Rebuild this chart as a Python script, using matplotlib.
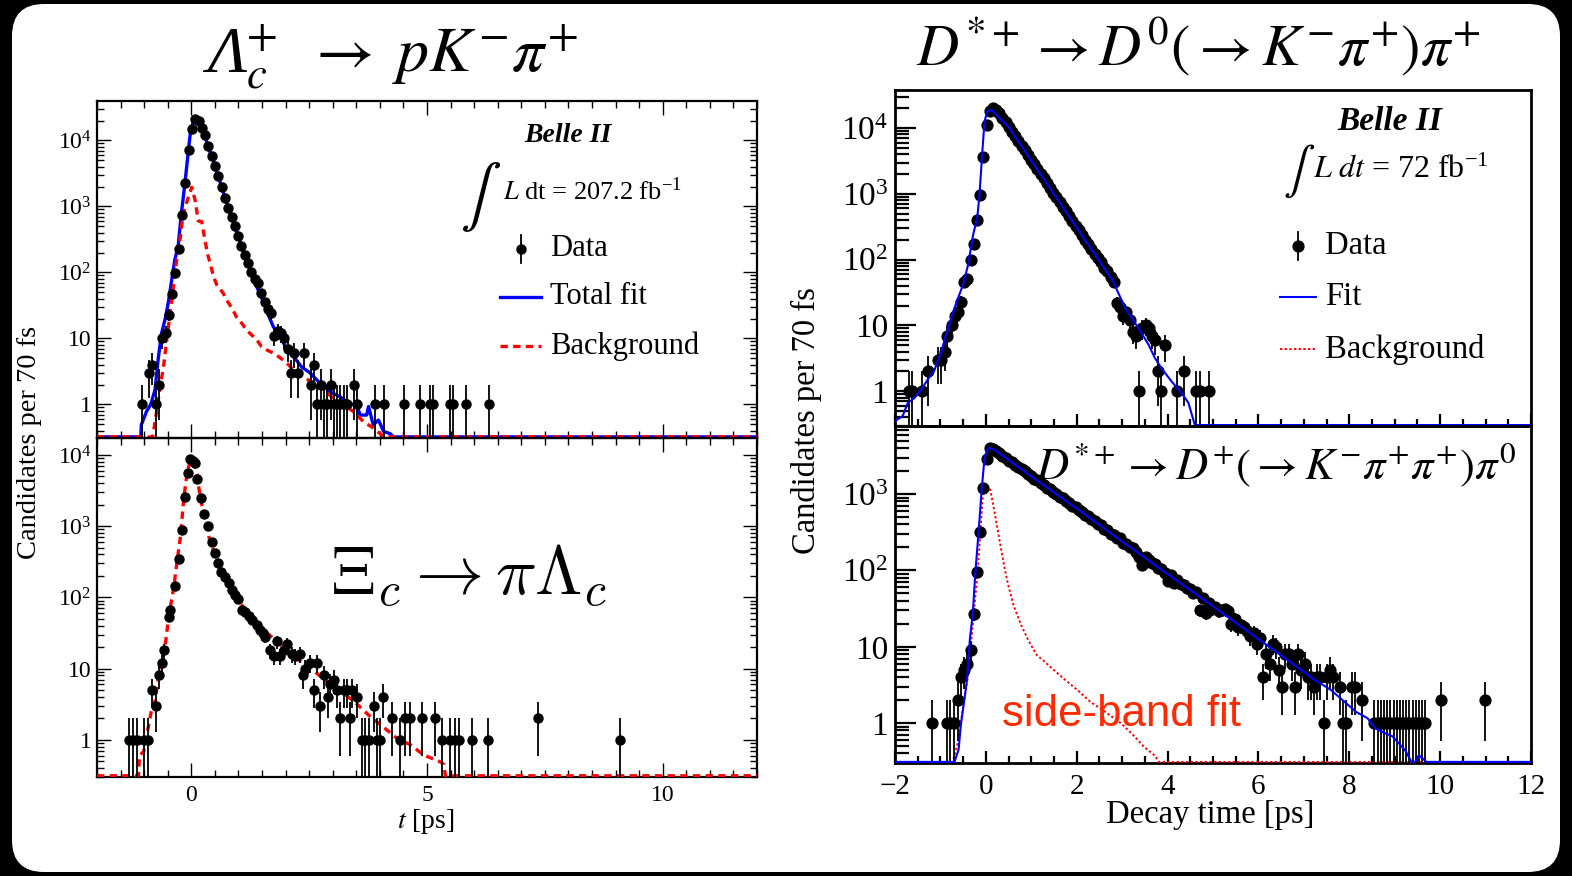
import numpy as np
import matplotlib
matplotlib.use('Agg')
import matplotlib.pyplot as plt
from matplotlib.patches import FancyBboxPatch
from matplotlib.lines import Line2D
from matplotlib.ticker import FixedLocator, LogLocator, MultipleLocator, FuncFormatter, NullFormatter

plt.rcParams['font.family'] = ['Liberation Serif', 'DejaVu Serif']
plt.rcParams['mathtext.fontset'] = 'stix'

W, H = 1572, 876

# ---- Lambda_c -> p K pi (top left), (t [ps], candidates)
lc_data = [(-1.035, 1), (-0.895, 3), (-0.825, 4), (-0.755, 1), (-0.685, 2), (-0.615, 10), (-0.545, 12),
           (-0.475, 23), (-0.405, 47), (-0.335, 97), (-0.265, 227), (-0.195, 750), (-0.125, 2300),
           (-0.055, 7200), (0.015, 15000), (0.085, 21000), (0.155, 20000), (0.225, 15500), (0.295, 12000),
           (0.365, 8100), (0.435, 5700), (0.505, 4100), (0.575, 2900), (0.645, 1950), (0.715, 1350),
           (0.785, 950), (0.855, 700), (0.925, 510), (0.995, 360), (1.065, 255), (1.135, 185), (1.205, 140),
           (1.275, 100), (1.345, 80), (1.415, 70), (1.485, 48), (1.555, 35), (1.625, 28), (1.695, 24),
           (1.765, 11), (1.835, 13), (1.905, 12), (1.975, 10), (2.045, 7), (2.115, 3), (2.185, 6), (2.255, 3),
           (2.395, 6), (2.535, 2), (2.605, 4), (2.675, 1), (2.745, 2), (2.815, 1), (2.885, 1), (2.955, 2),
           (3.025, 1), (3.095, 1), (3.165, 1), (3.235, 1), (3.305, 1), (3.445, 2), (3.515, 1), (3.905, 1),
           (4.085, 1), (4.505, 1), (4.855, 1), (5.065, 1), (5.135, 1), (5.485, 1), (5.555, 1), (5.835, 1),
           (6.325, 1)]
lc_fit = [(-2.0, 0), (-1.07, 0), (-1.06, 0.49), (-0.95, 0.78), (-0.86, 1.0), (-0.77, 1.66), (-0.70, 5),
          (-0.63, 12), (-0.56, 19), (-0.49, 34), (-0.42, 73), (-0.35, 155), (-0.28, 245), (-0.21, 790),
          (-0.13, 2400), (-0.06, 7200), (-0.01, 15000), (0.06, 20000), (0.13, 20500), (0.22, 15500),
          (0.29, 11500), (0.36, 8000), (0.43, 5700), (0.50, 4100), (0.57, 2900), (0.64, 2000), (0.71, 1400),
          (0.78, 980), (0.85, 700), (0.92, 500), (0.99, 360), (1.06, 260), (1.13, 190), (1.20, 138),
          (1.27, 100), (1.34, 75), (1.41, 56), (1.48, 43), (1.55, 33), (1.62, 24), (1.74, 15), (1.88, 10.6),
          (2.02, 7.1), (2.17, 5.3), (2.34, 3.7), (2.52, 3.0), (2.73, 2.1), (2.94, 1.56), (3.16, 1.3),
          (3.37, 1.0), (3.51, 1.0), (3.58, 0.69), (3.72, 0.69), (3.76, 0.93), (3.86, 0.49), (3.97, 0.58),
          (4.08, 0.39), (4.22, 0.36), (4.29, 0), (12.0, 0)]
lc_bkg = [(-2.0, 0), (-0.82, 0), (-0.81, 0.35), (-0.74, 0.74), (-0.67, 1.66), (-0.59, 3.7), (-0.52, 9.5),
          (-0.45, 24), (-0.38, 61), (-0.31, 155), (-0.24, 310), (-0.17, 790), (-0.06, 1400), (0.01, 1950),
          (0.08, 1250), (0.15, 600), (0.22, 590), (0.29, 310), (0.34, 195), (0.40, 138), (0.47, 87),
          (0.54, 65), (0.68, 48), (0.75, 38), (0.86, 29), (0.96, 21), (1.07, 17), (1.17, 13.4), (1.28, 11.3),
          (1.39, 9.5), (1.49, 7.5), (1.60, 6.7), (1.74, 6.0), (1.85, 5.3), (1.95, 4.7), (2.06, 4.0),
          (2.17, 3.3), (2.38, 2.6), (2.59, 2.1), (2.80, 1.7), (3.01, 1.24), (3.23, 0.98), (3.44, 0.78),
          (3.65, 0.55), (3.86, 0.44), (4.05, 0.34), (4.08, 0), (12.0, 0)]

# ---- Xi_c -> pi Lambda_c (bottom left)
xic_data = [(-1.33, 1), (-1.24, 1), (-1.15, 1), (-1.01, 1), (-0.91, 1), (-0.83, 5), (-0.75, 3), (-0.69, 8),
            (-0.62, 12), (-0.57, 18), (-0.48, 53), (-0.45, 66), (-0.34, 145), (-0.27, 350), (-0.20, 890),
            (-0.13, 2550), (-0.07, 5500), (-0.02, 8700), (0.04, 8200), (0.085, 7600), (0.13, 4600),
            (0.205, 2500), (0.28, 1500), (0.35, 1020), (0.44, 590), (0.50, 420), (0.56, 300), (0.64, 230),
            (0.72, 195), (0.79, 158), (0.86, 126), (0.93, 107), (1.0, 94), (1.07, 66), (1.15, 63), (1.22, 55),
            (1.29, 48), (1.39, 41), (1.46, 35), (1.52, 32), (1.57, 28), (1.68, 18), (1.75, 15), (1.82, 24),
            (1.89, 15), (1.96, 18), (2.03, 22), (2.14, 16), (2.21, 15), (2.31, 16), (2.38, 8), (2.42, 10),
            (2.51, 12), (2.60, 5), (2.67, 12), (2.74, 3), (2.81, 8), (2.89, 4), (2.95, 6), (3.02, 7),
            (3.09, 5), (3.16, 2), (3.23, 5), (3.30, 5), (3.37, 2), (3.41, 5), (3.51, 4), (3.62, 1), (3.69, 1),
            (3.76, 1), (3.87, 3), (3.94, 1), (4.01, 1), (4.07, 4), (4.26, 2), (4.43, 1), (4.54, 2), (4.63, 2),
            (4.89, 2), (5.18, 2), (5.32, 1), (5.49, 1), (5.60, 1), (5.67, 1), (5.95, 1), (6.29, 1), (7.35, 2),
            (9.09, 1)]
xic_bkg = [(-2.0, 0), (-1.12, 0), (-1.10, 0.6), (-1.01, 0.68), (-0.94, 1.2), (-0.83, 2.9), (-0.76, 3.6),
           (-0.69, 8.5), (-0.62, 12.5), (-0.55, 22), (-0.48, 53), (-0.37, 140), (-0.30, 330), (-0.23, 710),
           (-0.16, 2450), (-0.09, 5500), (-0.02, 8500), (0.05, 8100), (0.12, 5500), (0.19, 2450),
           (0.26, 1600), (0.33, 930), (0.40, 600), (0.51, 390), (0.62, 270), (0.76, 185), (0.90, 126),
           (1.04, 83), (1.25, 53), (1.53, 35), (1.82, 24), (2.10, 16), (2.38, 11.8), (2.67, 8.5), (2.95, 5.9),
           (3.23, 4.5), (3.51, 3.2), (3.80, 2.1), (4.08, 1.5), (4.36, 1.05), (4.65, 0.85), (4.93, 0.61),
           (5.28, 0.49), (5.36, 0.45), (5.39, 0), (12.0, 0)]

# ---- D*+ -> D0 pi+ (top right)
d0_data = [(-1.685, 1), (-1.615, 1), (-1.405, 1), (-1.265, 2), (-1.055, 3), (-0.985, 3), (-0.895, 4),
           (-0.845, 7), (-0.755, 10), (-0.685, 14), (-0.615, 16), (-0.545, 23), (-0.475, 45), (-0.405, 50),
           (-0.335, 98), (-0.265, 175), (-0.195, 400), (-0.125, 970), (-0.055, 3600), (0.015, 11000),
           (0.085, 18000), (0.155, 20500), (0.225, 19000), (0.295, 16800), (0.365, 14500), (0.435, 12300),
           (0.505, 10400), (0.575, 8800), (0.645, 7500), (0.715, 6400), (0.785, 5400), (0.855, 4600),
           (0.925, 3900), (0.995, 3300), (1.065, 2800), (1.135, 2380), (1.205, 2010), (1.275, 1720),
           (1.345, 1450), (1.415, 1240), (1.485, 1040), (1.555, 890), (1.625, 750), (1.695, 640),
           (1.765, 540), (1.835, 460), (1.905, 390), (1.975, 330), (2.045, 282), (2.115, 238), (2.185, 200),
           (2.255, 172), (2.325, 145), (2.395, 123), (2.465, 105), (2.535, 92), (2.605, 74), (2.675, 66),
           (2.745, 54), (2.815, 46), (2.885, 22), (2.955, 19), (3.025, 14), (3.095, 16), (3.165, 12),
           (3.235, 8), (3.305, 7), (3.375, 1), (3.445, 9), (3.515, 10), (3.585, 9), (3.655, 7), (3.725, 6),
           (3.795, 2), (3.865, 1), (3.935, 5), (4.215, 1), (4.355, 2), (4.635, 1), (4.705, 1), (4.915, 1)]
d0_fit = [(-2.0, 0.35), (-1.83, 0.42), (-1.72, 0.66), (-1.57, 0.79), (-1.42, 1.06), (-1.28, 1.5),
          (-1.13, 2.1), (-0.98, 4), (-0.83, 9.2), (-0.69, 18.5), (-0.50, 42), (-0.39, 84), (-0.28, 240),
          (-0.19, 430), (-0.14, 970), (-0.085, 3700), (-0.03, 12600), (0.03, 17800), (0.12, 19000),
          (0.5, 10400), (1.0, 3210), (1.5, 993), (2.0, 307), (2.5, 95), (2.8, 47), (3.06, 18.6), (3.36, 9.1),
          (3.58, 5.1), (3.72, 3.2), (3.87, 2.2), (4.09, 1.4), (4.31, 0.93), (4.46, 0.66), (4.6, 0),
          (12.0, 0)]

# ---- D*+ -> D+ pi0 (bottom right)
dp_data = [(-1.175, 1), (-0.865, 1), (-0.785, 1), (-0.695, 1), (-0.615, 2), (-0.545, 4), (-0.475, 5),
           (-0.405, 6), (-0.335, 9), (-0.265, 27), (-0.195, 94), (-0.125, 320), (-0.055, 1200),
           (0.015, 2900), (0.085, 4050), (0.155, 3900), (0.225, 3700), (0.295, 3450), (0.365, 3150),
           (0.435, 3000), (0.505, 2750), (0.575, 2620), (0.645, 2400), (0.715, 2280), (0.785, 2100),
           (0.855, 1990), (0.925, 1830), (0.995, 1740), (1.065, 1600), (1.135, 1520), (1.205, 1400),
           (1.275, 1320), (1.345, 1210), (1.415, 1150), (1.485, 1060), (1.555, 1000), (1.625, 925),
           (1.695, 880), (1.765, 800), (1.835, 765), (1.905, 700), (1.975, 670), (2.045, 610), (2.115, 585),
           (2.185, 530), (2.255, 510), (2.325, 465), (2.395, 445), (2.465, 400), (2.535, 390), (2.605, 350),
           (2.675, 340), (2.745, 300), (2.815, 295), (2.885, 265), (2.955, 262), (3.025, 230), (3.095, 225),
           (3.165, 200), (3.235, 196), (3.305, 175), (3.375, 150), (3.445, 118), (3.515, 150), (3.585, 138),
           (3.655, 125), (3.725, 122), (3.795, 108), (3.865, 105), (3.935, 92), (4.005, 72), (4.075, 86),
           (4.145, 68), (4.215, 76), (4.285, 66), (4.355, 65), (4.425, 58), (4.495, 57), (4.565, 50),
           (4.635, 52), (4.705, 30), (4.775, 44), (4.845, 28), (4.915, 38), (4.985, 31), (5.055, 33),
           (5.125, 29), (5.195, 30), (5.265, 31), (5.335, 29), (5.405, 20), (5.475, 23), (5.545, 18),
           (5.615, 19), (5.685, 18), (5.755, 16), (5.825, 14), (5.895, 15), (5.965, 11), (6.035, 13),
           (6.105, 4), (6.175, 8), (6.245, 6), (6.315, 11), (6.385, 10), (6.455, 5), (6.525, 3), (6.595, 8),
           (6.665, 8), (6.735, 6), (6.805, 3), (6.875, 8), (6.945, 5), (7.015, 6), (7.085, 4), (7.155, 4),
           (7.225, 3), (7.295, 4), (7.365, 4), (7.435, 1), (7.505, 4), (7.575, 5), (7.645, 4), (7.785, 3),
           (7.855, 1), (7.925, 1), (8.065, 3), (8.135, 3), (8.275, 2), (8.555, 1), (8.625, 1), (8.695, 1),
           (8.765, 1), (8.835, 1), (8.905, 1), (8.975, 1), (9.045, 1), (9.115, 1), (9.185, 1), (9.255, 1),
           (9.325, 1), (9.395, 1), (9.465, 1), (9.535, 1), (9.605, 1), (9.675, 1), (10.025, 2), (10.985, 2)]
dp_fit = [(-2.0, 0), (-0.69, 0), (-0.6, 0.45), (-0.55, 0.95), (-0.48, 1.9), (-0.41, 3.9), (-0.35, 13),
          (-0.29, 26), (-0.23, 96), (-0.16, 320), (-0.09, 1180), (-0.03, 2950), (0.03, 3800), (0.09, 4050),
          (0.2, 3780), (1.0, 1710), (2.0, 650), (3.0, 240), (4.0, 90), (5.0, 34), (6.0, 12.6), (7.0, 4.7),
          (7.18, 3.9), (7.6, 2.7), (7.94, 1.8), (8.15, 1.4), (8.4, 1.16), (8.57, 0.86), (8.78, 0.74),
          (8.95, 0.67), (9.12, 0.52), (9.24, 0.43), (9.37, 0), (9.45, 0), (9.53, 0.38), (9.7, 0), (12.0, 0)]
dp_bkg = [(-2.0, 0), (-0.73, 0), (-0.63, 0.52), (-0.55, 1.05), (-0.48, 1.9), (-0.40, 3.9), (-0.34, 8.7),
          (-0.27, 26), (-0.18, 96), (-0.125, 290), (-0.06, 1130), (0.02, 1250), (0.09, 1200), (0.15, 790),
          (0.24, 400), (0.32, 215), (0.40, 117), (0.49, 65), (0.61, 35), (0.78, 19), (0.95, 11.7),
          (1.12, 7.8), (1.29, 6.4), (1.54, 4.7), (1.79, 3.5), (2.05, 2.6), (2.30, 1.9), (2.63, 1.4),
          (2.97, 1.0), (3.23, 0.71), (3.48, 0.49), (3.73, 0.37), (3.81, 0), (12.0, 0)]

BLUE = '#0000ff'
RED = '#ff0000'


def fx(x):
    return x / W


def fy(y):
    return 1 - y / H


def log_fmt(v, pos):
    e = int(round(np.log10(v)))
    if e == 0:
        return '1'
    if e == 1:
        return '10'
    return r'$\mathregular{10^{%d}}$' % e


def make_axes(x0, x1, y0, y1, ylim, right_style):
    ax = fig.add_axes([fx(x0), fy(y1), fx(x1 - x0), (y1 - y0) / H])
    ax.set_facecolor('none')
    ax.set_yscale('log')
    ax.set_xlim(-2, 12)
    ax.set_ylim(*ylim)
    ax.yaxis.set_major_locator(FixedLocator([1, 10, 100, 1000, 10000]))
    ax.yaxis.set_minor_locator(LogLocator(base=10, subs=np.arange(2, 10)))
    ax.yaxis.set_major_formatter(FuncFormatter(log_fmt))
    ax.yaxis.set_minor_formatter(NullFormatter())
    ax.xaxis.set_major_formatter(FuncFormatter(lambda v, p: ('%g' % v).replace('-', '\u2212')))
    if right_style:
        ax.xaxis.set_major_locator(MultipleLocator(2))
        ax.xaxis.set_minor_locator(MultipleLocator(0.5))
        ax.tick_params(which='both', direction='in', top=False, right=False, width=1.6)
        ax.tick_params(axis='y', which='major', length=15, labelsize=24, pad=5)
        ax.tick_params(axis='y', which='minor', length=10)
        ax.tick_params(axis='x', which='major', length=9, labelsize=21, pad=8)
        ax.tick_params(axis='x', which='minor', length=5)
        lw = 2.0
    else:
        ax.xaxis.set_major_locator(MultipleLocator(5))
        ax.xaxis.set_minor_locator(MultipleLocator(0.5))
        ax.tick_params(which='both', direction='in', top=True, right=True, width=1.0)
        ax.tick_params(axis='y', which='major', length=10, labelsize=17, pad=4)
        ax.tick_params(axis='y', which='minor', length=5)
        ax.tick_params(axis='x', which='major', length=10, labelsize=17, pad=6)
        ax.tick_params(axis='x', which='minor', length=5)
        lw = 1.6
    for s in ax.spines.values():
        s.set_linewidth(lw)
    return ax


def draw_data(ax, pts, ms):
    t, n = np.array(pts, dtype=float).T
    err = np.sqrt(n)
    lo = np.minimum(err, n - 0.01)
    ax.errorbar(t, n, yerr=[lo, err], fmt='o', color='black', ms=ms, elinewidth=1.3,
                capsize=0, zorder=4)


def draw_curve(ax, pts, floor, **kw):
    t, v = np.array(pts, dtype=float).T
    ax.plot(t, np.maximum(v, floor), **kw)


fig = plt.figure(figsize=(W / 100, H / 100), dpi=100)
fig.patch.set_facecolor('black')
card = FancyBboxPatch((12 / 100, 4 / 100), 1548 / 100, 868 / 100,
                      boxstyle='round,pad=0,rounding_size=0.32',
                      transform=fig.dpi_scale_trans, facecolor='white', edgecolor='none', zorder=-5)
fig.add_artist(card)

# ---- left panels
ax_tl = make_axes(97, 757, 101, 438, (0.31, 3.95e4), False)
ax_tl.tick_params(labelbottom=False)
draw_curve(ax_tl, lc_fit, 0.322, color=BLUE, lw=2.4, zorder=2)
draw_curve(ax_tl, lc_bkg, 0.322, color=RED, lw=2.4, dashes=(2.2, 1.6), zorder=3)
draw_data(ax_tl, lc_data, 6.5)

ax_bl = make_axes(97, 757, 438, 777, (0.30, 1.73e4), False)
draw_curve(ax_bl, xic_bkg, 0.312, color=RED, lw=2.4, dashes=(2.2, 1.6), zorder=3)
draw_data(ax_bl, xic_data, 6.5)

# ---- right panels
ax_tr = make_axes(895, 1531, 90, 426, (0.295, 3.8e4), True)
ax_tr.tick_params(labelbottom=False)
draw_curve(ax_tr, d0_fit, 0.305, color=BLUE, lw=1.5, zorder=5)
draw_data(ax_tr, d0_data, 7.8)

ax_br = make_axes(895, 1531, 426, 763, (0.30, 7800), True)
draw_curve(ax_br, dp_bkg, 0.31, color=RED, lw=1.4, dashes=(1.2, 1.2), zorder=3)
draw_data(ax_br, dp_data, 7.8)
draw_curve(ax_br, dp_fit, 0.31, color=BLUE, lw=1.5, zorder=5)

# ---- titles and labels
fig.text(fx(246), fy(72), '\u039b', fontsize=47, fontstyle='italic', ha='right', va='baseline')
fig.text(fx(246), fy(72), r'${}_c^{+}\;\;\rightarrow\; pK^{-}\pi^{+}$', fontsize=46,
         ha='left', va='baseline')
fig.text(fx(1198), fy(47), r'$D^{*+}\rightarrow D^{0}(\rightarrow K^{-}\pi^{+})\pi^{+}$', fontsize=42,
         ha='center', va='center')
fig.text(fx(468), fy(576), r'$\Xi_c \rightarrow \pi\Lambda_c$', fontsize=49,
         ha='center', va='center', math_fontfamily='cm')
fig.text(fx(1516), fy(465), r'$D^{*+}\rightarrow D^{+}(\rightarrow K^{-}\pi^{+}\pi^{+})\pi^{0}$', fontsize=32,
         ha='right', va='center')
fig.text(fx(1122), fy(715), 'side-band fit', fontsize=31.5, color='#ff2a00',
         ha='center', va='center', family='Liberation Sans')

fig.text(fx(30), fy(442), 'Candidates per 70 fs', fontsize=20.5, rotation=90, ha='center', va='center')
fig.text(fx(806), fy(421), 'Candidates per 70 fs', fontsize=23.5, rotation=90, ha='center', va='center')
fig.text(fx(426), fy(822), r'$t$ [ps]', fontsize=20, ha='center', va='center')
fig.text(fx(1210), fy(815), 'Decay time [ps]', fontsize=23.5, ha='center', va='center')

# ---- Belle II labels and legends
fig.text(fx(568), fy(135), 'Belle II', fontsize=20, fontweight='bold', fontstyle='italic',
         ha='center', va='center')
fig.text(fx(475), fy(196), '\u222b', fontsize=44, family='STIXGeneral', ha='center', va='center')
fig.text(fx(503), fy(191), r'$L$ dt = 207.2 fb$^{\mathregular{-1}}$', fontsize=19, ha='left', va='center')

fig.text(fx(1390), fy(121), 'Belle II', fontsize=24, fontweight='bold', fontstyle='italic',
         ha='center', va='center')
fig.text(fx(1294), fy(171), '\u222b', fontsize=34, family='STIXGeneral', ha='center', va='center')
fig.text(fx(1313), fy(170), r'$L\ dt$ = 72 fb$^{\mathregular{-1}}$', fontsize=23, ha='left', va='center')


def legend_rows(xm, x0, x1, xt, rows, labels, size, ms, fit_lw, bkg_style):
    fig.add_artist(Line2D([fx(xm)] * 2, [fy(rows[0] - 14), fy(rows[0] + 14)], color='black', lw=1.3))
    fig.add_artist(Line2D([fx(xm)], [fy(rows[0])], marker='o', color='black', ms=ms, ls='none'))
    fig.add_artist(Line2D([fx(x0), fx(x1)], [fy(rows[1])] * 2, color=BLUE, lw=fit_lw))
    fig.add_artist(Line2D([fx(x0), fx(x1)], [fy(rows[2])] * 2, color=RED, **bkg_style))
    for y, lab in zip(rows, labels):
        fig.text(fx(xt), fy(y), lab, fontsize=size, ha='left', va='center')


legend_rows(521, 500, 541, 550, [249, 297, 346], ['Data', 'Total fit', 'Background'], 22, 6.5, 2.4,
            dict(lw=2.4, dashes=(2.2, 1.6)))
legend_rows(1298, 1280, 1316, 1325, [246, 297, 349], ['Data', 'Fit', 'Background'], 23.5, 7.8, 1.5,
            dict(lw=1.4, dashes=(1.2, 1.2)))

fig.savefig('out.png', dpi=100, facecolor=fig.get_facecolor())
